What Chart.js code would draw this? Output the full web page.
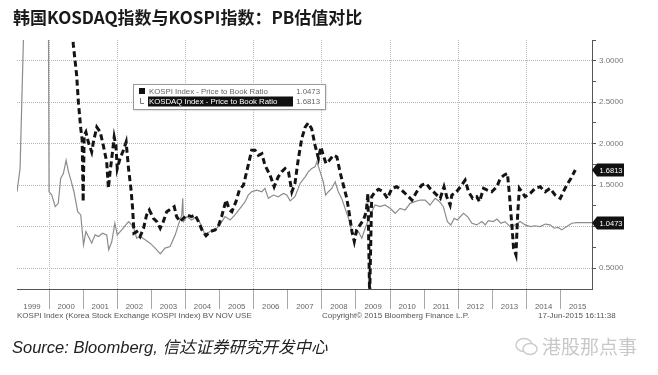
<!DOCTYPE html>
<html>
<head>
<meta charset="utf-8">
<script src="https://cdn.jsdelivr.net/npm/chart.js@4.4.1/dist/chart.umd.min.js"></script>
<style>
  html, body { margin: 0; padding: 0; background: #fff; }
  #wrap { position: relative; width: 658px; height: 375px; overflow: hidden; }
  #chartBox { position: absolute; left: 0; top: 0; width: 658px; height: 375px; }
  .txt { position: absolute; white-space: nowrap; }
  #title { left: 13px; top: 7px; font: bold 17px "Noto Sans CJK SC", sans-serif; color: #1a1a1a; line-height: 20px; }
  .foot { top: 311px; font: 8px "Liberation Sans", sans-serif; color: #555; line-height: 10px; }
  #source { left: 12px; top: 336px; font: italic 16.5px "Liberation Sans", "Noto Sans CJK SC", sans-serif; color: #222; line-height: 22px; }
  #mark { left: 542px; top: 335px; font: 19px "Noto Sans CJK SC", sans-serif; color: #c8c8c8; line-height: 22px; }
  #icon { left: 514px; top: 336px; }
</style>
</head>
<body>
<div id="wrap">
  <div id="chartBox"><canvas id="myChart"></canvas></div>
  <div class="txt" id="title">韩国KOSDAQ指数与KOSPI指数：PB估值对比</div>
  <div class="txt foot" style="left:17px">KOSPI Index (Korea Stock Exchange KOSPI Index) BV NOV USE</div>
  <div class="txt foot" style="left:322px">Copyright© 2015 Bloomberg Finance L.P.</div>
  <div class="txt foot" style="left:538px">17-Jun-2015 16:11:38</div>
  <div class="txt" id="source">Source: Bloomberg, 信达证券研究开发中心</div>
  <svg class="txt" id="icon" width="26" height="22" viewBox="0 0 26 22">
    <ellipse cx="10" cy="9" rx="8" ry="6.5" fill="none" stroke="#cccccc" stroke-width="1.4"/>
    <ellipse cx="16" cy="13" rx="7" ry="5.5" fill="#fff" stroke="#cccccc" stroke-width="1.4"/>
  </svg>
  <div class="txt" id="mark">港股那点事</div>
</div>
<script>
// year labels on the bottom axis
const years = [1999, 2000, 2001, 2002, 2003, 2004, 2005, 2006, 2007, 2008, 2009, 2010, 2011, 2012, 2013, 2014, 2015];

const kospiLabel = 'KOSPI Index - Price to Book Ratio';
const kosdaqLabel = 'KOSDAQ Index - Price to Book Ratio';
const kospiLast = 1.0473;
const kosdaqLast = 1.6813;

// grey solid line (dates as decimal years)
const kospiDates = [1999.06, 1999.07, 1999.15, 1999.27, 1999.5, 1999.97, 2000.0, 2000.08, 2000.18, 2000.27, 2000.34, 2000.42, 2000.50, 2000.57, 2000.64, 2000.73, 2000.84, 2000.93,
  2001.01, 2001.08, 2001.18, 2001.25, 2001.35, 2001.45, 2001.57, 2001.69, 2001.75, 2001.84, 2001.93, 2002.00, 2002.13, 2002.33, 2002.47, 2002.57, 2002.67, 2002.82, 2002.96,
  2003.11, 2003.26, 2003.40, 2003.55, 2003.70, 2003.79, 2003.89, 2003.92, 2003.94, 2004.04, 2004.18, 2004.33, 2004.48, 2004.57, 2004.72, 2004.87, 2005.01, 2005.16, 2005.31,
  2005.45, 2005.60, 2005.75, 2005.84, 2005.94, 2006.09, 2006.24, 2006.33, 2006.43, 2006.58, 2006.72, 2006.87, 2006.97, 2007.07, 2007.21, 2007.36, 2007.51, 2007.60, 2007.70,
  2007.80, 2007.85, 2007.95, 2008.04, 2008.11, 2008.19, 2008.29, 2008.39, 2008.48, 2008.58, 2008.68, 2008.78, 2008.88, 2008.97, 2009.07, 2009.17, 2009.27, 2009.36, 2009.46,
  2009.56, 2009.71, 2009.85, 2010.00, 2010.15, 2010.29, 2010.44, 2010.59, 2010.73, 2010.88, 2011.03, 2011.17, 2011.32, 2011.45, 2011.56, 2011.68, 2011.78, 2011.88, 2011.97,
  2012.15, 2012.27, 2012.40, 2012.54, 2012.69, 2012.79, 2012.88, 2013.03, 2013.13, 2013.25, 2013.37, 2013.52, 2013.67, 2013.81, 2013.96, 2014.11, 2014.25, 2014.40, 2014.55,
  2014.69, 2014.81, 2014.93, 2015.03, 2015.18, 2015.33, 2015.46, 2015.92];
const kospiPB = [1.42, 1.42, 1.70, 3.6, 5.0, 5.0, 1.42, 1.38, 1.24, 1.28, 1.58, 1.64, 1.80, 1.66, 1.56, 1.42, 1.18, 1.14,
  0.78, 0.94, 0.86, 0.80, 0.90, 0.88, 0.92, 0.90, 0.72, 0.82, 1.04, 0.90, 0.96, 1.06, 1.00, 0.86, 0.88, 0.84, 0.80,
  0.74, 0.67, 0.74, 0.76, 0.90, 1.02, 1.14, 1.34, 1.06, 1.12, 1.08, 1.12, 1.00, 0.90, 0.94, 0.96, 1.02, 1.12, 1.08,
  1.14, 1.22, 1.30, 1.38, 1.42, 1.44, 1.42, 1.46, 1.34, 1.38, 1.36, 1.40, 1.38, 1.31, 1.36, 1.52, 1.60, 1.66, 1.70,
  1.72, 1.78, 1.66, 1.54, 1.38, 1.42, 1.46, 1.54, 1.42, 1.34, 1.22, 1.10, 0.94, 0.90, 0.94, 0.86, 0.98, 1.08, 1.18,
  1.26, 1.24, 1.26, 1.22, 1.16, 1.22, 1.20, 1.28, 1.30, 1.32, 1.32, 1.26, 1.34, 1.30, 1.24, 1.06, 1.02, 1.10, 1.08,
  1.16, 1.12, 1.04, 1.02, 1.06, 1.02, 1.07, 1.06, 1.09, 1.04, 1.06, 1.00, 1.02, 1.06, 1.02, 1.00, 1.01, 1.00, 1.03,
  1.02, 0.98, 0.99, 0.96, 1.00, 1.04, 1.0473, 1.0473];

// black dashed line
const kosdaqDates = [2000.62, 2000.71, 2000.81, 2000.86, 2000.93, 2000.97, 2001.00, 2001.03, 2001.08, 2001.15, 2001.25, 2001.30, 2001.40, 2001.50, 2001.59, 2001.69, 2001.74,
  2001.79, 2001.86, 2001.91, 2001.96, 2002.00, 2002.08, 2002.18, 2002.26, 2002.33, 2002.40, 2002.45, 2002.49, 2002.57, 2002.67, 2002.77, 2002.86, 2002.94, 2003.06, 2003.16,
  2003.26, 2003.35, 2003.45, 2003.60, 2003.67, 2003.74, 2003.84, 2003.94, 2004.04, 2004.18, 2004.28, 2004.38, 2004.48, 2004.60, 2004.72, 2004.87, 2004.96, 2005.06, 2005.19,
  2005.29, 2005.36, 2005.48, 2005.58, 2005.70, 2005.84, 2005.94, 2006.04, 2006.14, 2006.24, 2006.33, 2006.48, 2006.60, 2006.72, 2006.82, 2006.92, 2007.02, 2007.12, 2007.21,
  2007.31, 2007.41, 2007.51, 2007.60, 2007.70, 2007.80, 2007.90, 2007.97, 2008.04, 2008.12, 2008.22, 2008.34, 2008.44, 2008.53, 2008.63, 2008.73, 2008.81, 2008.88, 2008.95,
  2009.02, 2009.12, 2009.22, 2009.30, 2009.35, 2009.40, 2009.46, 2009.56, 2009.66, 2009.80, 2009.92, 2010.05, 2010.19, 2010.34, 2010.49, 2010.64, 2010.78, 2010.93, 2011.06,
  2011.17, 2011.32, 2011.47, 2011.58, 2011.66, 2011.76, 2011.81, 2011.95, 2012.10, 2012.20, 2012.30, 2012.42, 2012.54, 2012.62, 2012.74, 2012.85, 2012.98, 2013.13, 2013.23,
  2013.34, 2013.44, 2013.50, 2013.57, 2013.62, 2013.69, 2013.74, 2013.79, 2013.86, 2013.96, 2014.11, 2014.25, 2014.40, 2014.55, 2014.69, 2014.84, 2014.99, 2015.08, 2015.18,
  2015.30, 2015.43];
const kosdaqPB = [3.8, 3.20, 2.82, 2.50, 2.18, 2.05, 1.30, 2.10, 2.14, 2.02, 1.90, 2.02, 2.20, 2.14, 1.98, 1.78, 1.46,
  1.66, 1.90, 2.08, 1.98, 1.70, 1.82, 1.92, 2.02, 1.70, 1.46, 1.22, 0.92, 0.94, 0.88, 0.98, 1.14, 1.20, 1.10, 1.06,
  0.98, 1.06, 1.18, 1.22, 1.24, 1.12, 1.06, 1.10, 1.14, 1.12, 1.14, 1.06, 0.96, 0.89, 0.94, 0.96, 1.00, 1.12, 1.32,
  1.20, 1.18, 1.30, 1.44, 1.50, 1.74, 1.92, 1.92, 1.86, 1.88, 1.74, 1.62, 1.48, 1.60, 1.66, 1.70, 1.66, 1.42, 1.52,
  1.82, 2.06, 2.20, 2.25, 2.18, 1.98, 1.82, 1.96, 1.86, 1.76, 1.80, 1.86, 1.84, 1.66, 1.50, 1.34, 1.14, 0.94, 0.82,
  0.96, 1.02, 1.08, 1.18, 1.40, 0.15, 1.36, 1.42, 1.45, 1.42, 1.34, 1.46, 1.48, 1.44, 1.38, 1.32, 1.42, 1.50, 1.52,
  1.46, 1.40, 1.34, 1.48, 1.36, 1.26, 1.38, 1.42, 1.50, 1.56, 1.42, 1.34, 1.36, 1.30, 1.46, 1.44, 1.42, 1.48, 1.58,
  1.62, 1.64, 1.38, 1.02, 0.74, 0.66, 1.14, 1.46, 1.42, 1.36, 1.40, 1.46, 1.48, 1.42, 1.46, 1.38, 1.34, 1.42, 1.50,
  1.58, 1.6813];

const yMajor = [0.5, 1.0, 1.5, 2.0, 2.5, 3.0];

function toPoints(xs, ys) {
  return xs.map((x, i) => ({ x: x, y: ys[i] }));
}

// legend box + value tags in Bloomberg style
const bbgOverlay = {
  id: 'bbgOverlay',
  afterDatasetsDraw(chart) {
    const ctx = chart.ctx;
    ctx.save();
    ctx.shadowColor = 'rgba(0,0,0,0.3)';
    ctx.shadowBlur = 2;
    ctx.shadowOffsetX = 1;
    ctx.shadowOffsetY = 1;
    ctx.fillStyle = '#fff';
    ctx.fillRect(133, 84, 192, 25);
    ctx.shadowColor = 'transparent';
    ctx.strokeStyle = '#9a9a9a';
    ctx.lineWidth = 1;
    ctx.strokeRect(133.5, 84.5, 192, 25);

    ctx.font = '7.8px "Liberation Sans"';
    ctx.textBaseline = 'middle';
    // row 1
    ctx.fillStyle = '#111';
    ctx.fillRect(139, 88, 6, 6);
    ctx.fillStyle = '#666';
    ctx.textAlign = 'left';
    ctx.fillText(kospiLabel, 149, 91.5);
    ctx.textAlign = 'right';
    ctx.fillText(kospiLast.toFixed(4), 320, 91.5);
    // row 2
    ctx.strokeStyle = '#777';
    ctx.beginPath();
    ctx.moveTo(140.5, 98); ctx.lineTo(140.5, 103.5); ctx.lineTo(144, 103.5);
    ctx.stroke();
    ctx.fillStyle = '#111';
    ctx.fillRect(148, 96.5, 145, 10);
    ctx.fillStyle = '#fff';
    ctx.textAlign = 'left';
    ctx.fillText(kosdaqLabel, 149, 101.5);
    ctx.fillStyle = '#666';
    ctx.textAlign = 'right';
    ctx.fillText(kosdaqLast.toFixed(4), 320, 101.5);
    ctx.restore();
  },
  afterDraw(chart) {
    const ctx = chart.ctx;
    const y = chart.scales.y;
    const r = chart.chartArea.right;
    ctx.save();
    [kosdaqLast, kospiLast].forEach(v => {
      const py = Math.round(y.getPixelForValue(v));
      ctx.fillStyle = '#111';
      ctx.beginPath();
      ctx.moveTo(r, py);
      ctx.lineTo(r + 5, py - 6.5);
      ctx.lineTo(r + 32, py - 6.5);
      ctx.lineTo(r + 32, py + 6.5);
      ctx.lineTo(r + 5, py + 6.5);
      ctx.closePath();
      ctx.fill();
      ctx.fillStyle = '#fff';
      ctx.font = '7.5px "Liberation Sans"';
      ctx.textAlign = 'center';
      ctx.textBaseline = 'middle';
      ctx.fillText(v.toFixed(4), r + 19, py + 0.5);
    });
    ctx.restore();
  }
};

const xTicks = [];
years.forEach(yr => {
  if (yr > years[0]) xTicks.push(yr);
  xTicks.push(yr + 0.5);
});

const ctx = document.getElementById('myChart').getContext('2d');
window.myChart = new Chart(ctx, {
  type: 'line',
  data: {
    datasets: [
      {
        label: kosdaqLabel,
        data: toPoints(kosdaqDates, kosdaqPB),
        borderColor: '#141414',
        borderWidth: 3,
        borderDash: [6, 3.5],
        pointRadius: 0,
        tension: 0,
        clip: 0
      },
      {
        label: kospiLabel,
        data: toPoints(kospiDates, kospiPB),
        borderColor: '#8c8c8c',
        borderWidth: 1.2,
        pointRadius: 0,
        tension: 0,
        clip: 0
      }
    ]
  },
  options: {
    responsive: true,
    maintainAspectRatio: false,
    animation: false,
    layout: { padding: { top: 40, left: 17, right: 0, bottom: 0 } },
    scales: {
      x: {
        type: 'linear',
        min: 1999.06,
        max: 2015.92,
        afterBuildTicks: axis => { axis.ticks = xTicks.map(v => ({ value: v })); },
        afterFit: axis => { axis.height = 86; },
        grid: {
          color: c => (Number.isInteger(c.tick.value) && c.tick.value % 2 === 0) ? '#bcbcbc' : 'transparent',
          tickColor: c => Number.isInteger(c.tick.value) ? '#a8a8a8' : 'transparent',
          tickLength: 20,
          lineWidth: 1
        },
        border: { display: true, color: '#555', width: 1, dash: [1, 1] },
        ticks: {
          autoSkip: false,
          maxRotation: 0,
          padding: -7,
          color: '#666',
          font: { family: 'Liberation Sans', size: 7.8 },
          callback: (v) => Number.isInteger(v) ? '' : String(years[Math.floor(v) - years[0]])
        }
      },
      y: {
        type: 'linear',
        position: 'right',
        min: 0.247,
        max: 3.25,
        afterBuildTicks: axis => {
          const t = [];
          for (let v = 0.5; v <= 3.25; v += 0.25) t.push({ value: v });
          axis.ticks = t;
        },
        afterFit: axis => { axis.width = 66; },
        grid: {
          color: c => yMajor.includes(c.tick.value) ? '#b4b4b4' : 'transparent',
          tickColor: '#555',
          tickLength: 4
        },
        border: { display: true, color: '#555', width: 1, dash: [1, 1] },
        ticks: {
          padding: 3,
          color: '#777',
          font: { family: 'Liberation Sans', size: 8 },
          callback: v => (yMajor.includes(v) && v !== 1.0) ? v.toFixed(4) : ''
        }
      }
    },
    plugins: {
      legend: { display: false },
      tooltip: { enabled: false }
    }
  },
  plugins: [bbgOverlay]
});
</script>
</body>
</html>
